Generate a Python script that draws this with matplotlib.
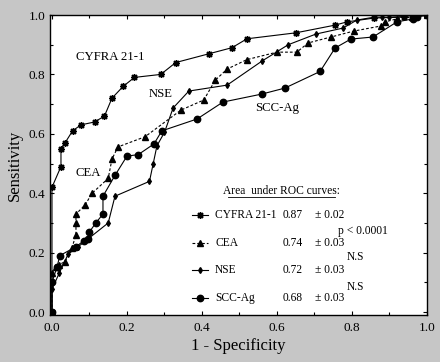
import numpy as np
import matplotlib
matplotlib.use('Agg')
import matplotlib.pyplot as plt
from matplotlib.ticker import MultipleLocator

plt.rcParams['font.family'] = ['Liberation Serif', 'DejaVu Serif']

# ROC curves
cyfra_x = [0, 0, 0.024, 0.024, 0.035, 0.055, 0.077, 0.114, 0.14, 0.16, 0.19, 0.22, 0.29,
           0.33, 0.42, 0.48, 0.52, 0.65, 0.755, 0.787, 0.86, 0.94, 0.96, 1.0]
cyfra_y = [0, 0.42, 0.49, 0.55, 0.57, 0.61, 0.63, 0.64, 0.66, 0.72, 0.76, 0.79, 0.80,
           0.84, 0.87, 0.89, 0.92, 0.94, 0.966, 0.977, 0.99, 0.993, 1.0, 1.0]

cea_x = [0, 0, 0.01, 0.02, 0.035, 0.053, 0.064, 0.064, 0.064, 0.088, 0.107, 0.15, 0.16,
         0.176, 0.248, 0.344, 0.405, 0.435, 0.467, 0.52, 0.60, 0.653, 0.683, 0.744, 0.805,
         0.877, 0.888, 0.92, 0.96, 1.0]
cea_y = [0, 0.13, 0.15, 0.16, 0.17, 0.215, 0.26, 0.30, 0.33, 0.36, 0.40, 0.45, 0.515,
         0.556, 0.59, 0.68, 0.714, 0.78, 0.818, 0.85, 0.875, 0.875, 0.906, 0.926, 0.946,
         0.963, 0.977, 0.987, 0.993, 1.0]

nse_x = [0, 0, 0.019, 0.043, 0.07, 0.1, 0.15, 0.168, 0.26, 0.27, 0.28, 0.30, 0.323, 0.365,
         0.467, 0.56, 0.63, 0.704, 0.776, 0.813, 0.86, 0.88, 0.90, 0.94, 0.96, 1.0]
nse_y = [0, 0.077, 0.13, 0.195, 0.22, 0.25, 0.30, 0.39, 0.44, 0.50, 0.56, 0.605, 0.687,
         0.744, 0.764, 0.845, 0.90, 0.936, 0.956, 0.983, 0.993, 0.993, 0.993, 0.995, 1.0, 1.0]

scc_x = [0, 0, 0.013, 0.021, 0.064, 0.085, 0.096, 0.10, 0.117, 0.136, 0.136, 0.168, 0.20,
         0.23, 0.272, 0.293, 0.387, 0.456, 0.56, 0.621, 0.715, 0.755, 0.797, 0.856, 0.92,
         0.963, 0.973, 1.0]
scc_y = [0, 0.10, 0.15, 0.19, 0.22, 0.24, 0.245, 0.27, 0.30, 0.33, 0.39, 0.46, 0.525, 0.53,
         0.566, 0.61, 0.65, 0.707, 0.734, 0.754, 0.81, 0.889, 0.919, 0.926, 0.977, 0.987,
         0.993, 1.0]

names = ['CYFRA 21-1', 'CEA', 'NSE', 'SCC-Ag']
auc = ['0.87', '0.74', '0.72', '0.68']
auc_err = ['0.02', '0.03', '0.03', '0.03']
comparisons = ['p < 0.0001', 'N.S', 'N.S']

styles = [
    dict(marker=(8, 2, 0), ms=5, mew=1.0, ls='-'),
    dict(marker='^', ms=3.8, ls=(0, (2.5, 1.8))),
    dict(marker='d', ms=3.0, ls='-'),
    dict(marker='o', ms=4.6, ls='-'),
]
curves = [(cyfra_x, cyfra_y), (cea_x, cea_y), (nse_x, nse_y), (scc_x, scc_y)]

fig = plt.figure(figsize=(4.4, 3.62), dpi=100)
fig.patch.set_facecolor('#c6c6c6')
ax = fig.add_axes([0.1136, 0.1298, 0.8568, 0.8287])
ax.set_facecolor('white')

for (xs, ys), st in zip(curves, styles):
    ax.plot(xs, ys, color='black', lw=0.8, mfc='black', mec='black', **st)

ax.set_xlim(-0.0053, 1.0)
ax.set_ylim(-0.01, 1.0)
ax.xaxis.set_major_locator(MultipleLocator(0.2))
ax.yaxis.set_major_locator(MultipleLocator(0.2))
ax.xaxis.set_minor_locator(MultipleLocator(0.1))
ax.yaxis.set_minor_locator(MultipleLocator(0.1))
ax.xaxis.set_major_formatter(plt.FormatStrFormatter('%.1f'))
ax.yaxis.set_major_formatter(plt.FormatStrFormatter('%.1f'))
ax.tick_params(which='both', direction='in', top=True, right=True, labelsize=9.5,
               width=0.8, colors='black')
ax.tick_params(which='major', length=3)
ax.tick_params(which='minor', length=2)
ax.tick_params(axis='x', pad=5)
for s in ax.spines.values():
    s.set_linewidth(1.0)

ax.set_xlabel('1 - Specificity', fontsize=12, labelpad=3)
ax.set_ylabel('Sensitivity', fontsize=12, labelpad=4)

# curve names
ax.text(0.069, 0.86, 'CYFRA 21-1', transform=ax.transAxes, fontsize=9.2, va='center')
ax.text(0.263, 0.737, 'NSE', transform=ax.transAxes, fontsize=9.2, va='center')
ax.text(0.069, 0.473, 'CEA', transform=ax.transAxes, fontsize=9.2, va='center')
ax.text(0.544, 0.69, 'SCC-Ag', transform=ax.transAxes, fontsize=9.2, va='center')

# area under ROC table
ax.text(0.613, 0.413, 'Area  under ROC curves:', transform=ax.transAxes, fontsize=8.3,
        ha='center', va='center')
ax.plot([0.472, 0.757], [0.395, 0.395], transform=ax.transAxes, color='black', lw=0.6)
rows = [0.333, 0.24, 0.15, 0.057]
for i, (nm, a, e, st) in enumerate(zip(names, auc, auc_err, styles)):
    y = rows[i]
    ax.plot([0.377, 0.398, 0.419], [y, y, y], transform=ax.transAxes, color='black',
            lw=0.8, markevery=[1], mfc='black', mec='black', **st)
    ax.text(0.438, y, nm, transform=ax.transAxes, fontsize=8.3, va='center')
    ax.text(0.618, y, a, transform=ax.transAxes, fontsize=8.3, va='center')
    ax.text(0.703, y, '\u00b1 ' + e, transform=ax.transAxes, fontsize=8.3, va='center')
for txt, (cx, cy) in zip(comparisons, [(0.764, 0.28), (0.788, 0.193), (0.788, 0.093)]):
    ax.text(cx, cy, txt, transform=ax.transAxes, fontsize=8.3, va='center')

fig.savefig('out.png', dpi=100, facecolor=fig.get_facecolor())
